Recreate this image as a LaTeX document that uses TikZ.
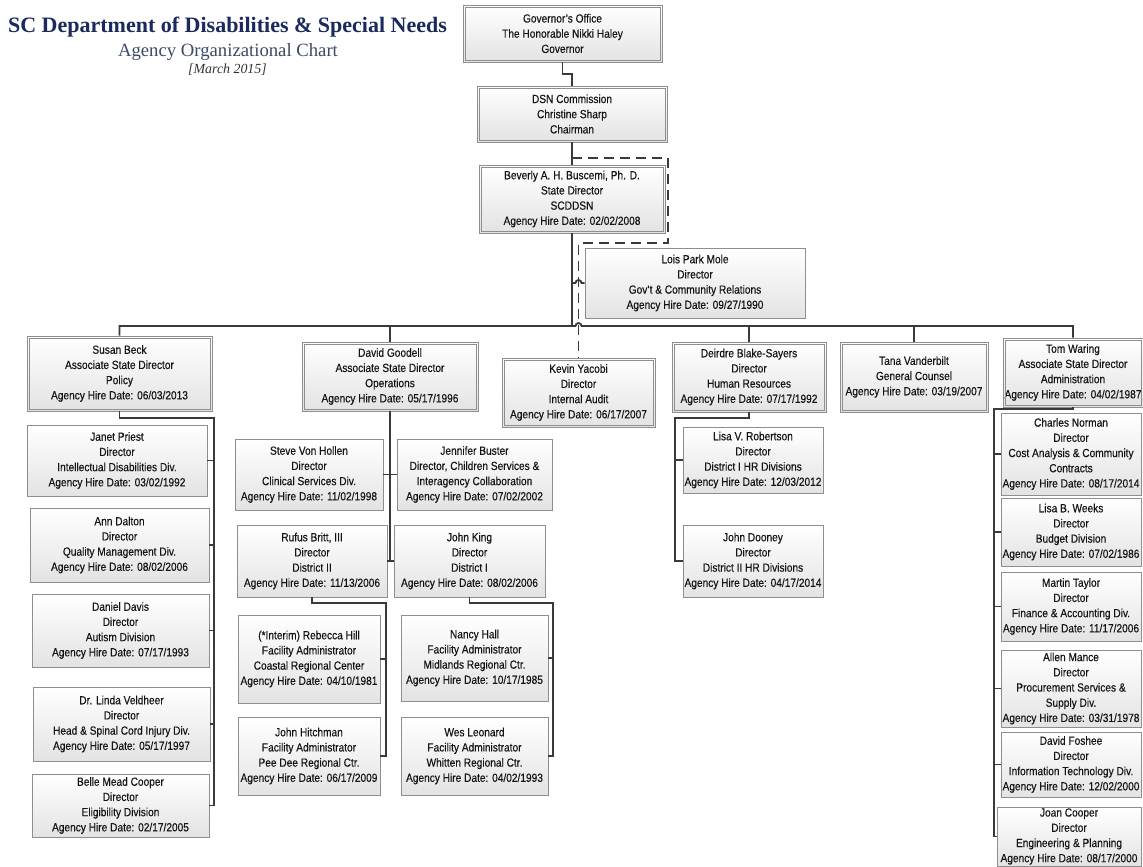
\documentclass[tikz,border=0pt]{standalone}
\usepackage{fontspec}
\setmainfont{Liberation Serif}
\newfontfamily\boxfamily[FakeStretch=0.86,FakeBold=0.3]{Liberation Sans}
\usetikzlibrary{shadows}
\newcommand\boxfont{\boxfamily\fontsize{11.8}{15.2}\selectfont}
\definecolor{titleblue}{HTML}{1B2A5C}
\definecolor{subblue}{HTML}{3D4A66}
\definecolor{linegray}{HTML}{3A3A3A}
\definecolor{bordergray}{HTML}{8E8E8E}
\newcommand\bx[7]{\node[#6, minimum width={#4-#2}, minimum height={#5-#3}] (#1) at ({(#2+#4)/2},{(#3+#5)/2}) {#7};}
\tikzset{
  box/.style={draw=bordergray, line width=0.8pt, top color=white, bottom color=black!11,
    align=center, font=\boxfont, inner sep=0pt, text=black!92,
    drop shadow={shadow xshift=1.3pt, shadow yshift=-1.3pt, fill=black, opacity=0.2}},
  dbox/.style={box},
  innerline/.style={draw=bordergray, line width=0.7pt},
  conn/.style={draw=linegray, line width=1.8pt},
  dashline/.style={draw=linegray, line width=1.8pt, dash pattern=on 10pt off 6pt},
}
\begin{document}
\begin{tikzpicture}[x=1pt,y=-1pt]
\fill[white] (0,0) rectangle (1143,867);
\useasboundingbox (0,0) rectangle (1143,867);

% titles
\node[anchor=base, font=\fontsize{22}{26}\selectfont\bfseries, text=titleblue, inner sep=0pt] (title) at (227.5,33) {SC Department of Disabilities \& Special Needs};
\node[anchor=base, font=\fontsize{18.7}{22}\selectfont, text=subblue, inner sep=0pt] (subtitle) at (228,57) {Agency Organizational Chart};
\node[anchor=base, font=\fontsize{13.9}{16}\selectfont\itshape, text=black!80, inner sep=0pt] (date) at (227.5,74) {[March 2015]};

% coordinates for junctions
\coordinate (busL) at (117,326);
\coordinate (d1) at (572,158);
\coordinate (d2) at (668,158);
\coordinate (d3) at (0,243);
\coordinate (hl) at (575.5,283);
\coordinate (hb) at (575.5,326);
\coordinate (s1) at (214,418);
\coordinate (r1) at (386,603);
\coordinate (k1) at (553,603);
\coordinate (dd1) at (675,418);
\coordinate (t1) at (994,409);

% top chain
\bx{gov}{463}{5}{662}{62}{dbox}{Governor’s Office\\The Honorable Nikki Haley\\Governor}
\bx{dsn}{477}{86}{667}{142}{dbox}{DSN Commission\\Christine Sharp\\Chairman}
\bx{bev}{479}{165}{665}{233}{dbox}{Beverly A. H. Buscemi, Ph. D.\\State Director\\SCDDSN\\Agency Hire Date: 02/02/2008}
\bx{lois}{585}{248}{805}{318}{box}{Lois Park Mole\\Director\\Gov’t \& Community Relations\\Agency Hire Date: 09/27/1990}

% level 2
\bx{susan}{27}{336}{212}{411}{dbox}{Susan Beck\\Associate State Director\\Policy\\Agency Hire Date: 06/03/2013}
\bx{david}{302}{342}{478}{411}{dbox}{David Goodell\\Associate State Director\\Operations\\Agency Hire Date: 05/17/1996}
\bx{kevin}{502}{358}{655}{427}{dbox}{Kevin Yacobi\\Director\\Internal Audit\\Agency Hire Date: 06/17/2007}
\bx{deirdre}{672}{342}{826}{412}{dbox}{Deirdre Blake-Sayers\\Director\\Human Resources\\Agency Hire Date: 07/17/1992}
\bx{tana}{840}{342}{988}{412}{dbox}{Tana Vanderbilt\\General Counsel\\Agency Hire Date: 03/19/2007}
\bx{tom}{1003}{338}{1143}{407}{dbox}{Tom Waring\\Associate State Director\\Administration\\Agency Hire Date: 04/02/1987}

% inner lines of the double borders
\foreach \n in {gov,dsn,bev,susan,david,kevin,deirdre,tana,tom}
  \draw[innerline] ([shift={(2.4pt,2.4pt)}]\n.south west) rectangle ([shift={(-2.4pt,-2.4pt)}]\n.north east);

% Susan's reports
\bx{janet}{27}{425}{207}{496}{box}{Janet Priest\\Director\\Intellectual Disabilities Div.\\Agency Hire Date: 03/02/1992}
\bx{ann}{30}{508}{209}{582}{box}{Ann Dalton\\Director\\Quality Management Div.\\Agency Hire Date: 08/02/2006}
\bx{daniel}{32}{594}{209}{667}{box}{Daniel Davis\\Director\\Autism Division\\Agency Hire Date: 07/17/1993}
\bx{linda}{33}{687}{210}{761}{box}{Dr. Linda Veldheer\\Director\\Head \& Spinal Cord Injury Div.\\Agency Hire Date: 05/17/1997}
\bx{belle}{32}{774}{209}{837}{box}{Belle Mead Cooper\\Director\\Eligibility Division\\Agency Hire Date: 02/17/2005}

% David's reports
\bx{steve}{235}{439}{383}{510}{box}{Steve Von Hollen\\Director\\Clinical Services Div.\\Agency Hire Date: 11/02/1998}
\bx{jennifer}{397}{439}{552}{510}{box}{Jennifer Buster\\Director, Children Services \&\\Interagency Collaboration\\Agency Hire Date: 07/02/2002}
\bx{rufus}{237}{525}{387}{597}{box}{Rufus Britt, III\\Director\\District II\\Agency Hire Date: 11/13/2006}
\bx{king}{394}{525}{545}{597}{box}{John King\\Director\\District I\\Agency Hire Date: 08/02/2006}
\bx{rebecca}{238}{615}{380}{703}{box}{(*Interim) Rebecca Hill\\Facility Administrator\\Coastal Regional Center\\Agency Hire Date: 04/10/1981}
\bx{hitchman}{238}{717}{380}{795}{box}{John Hitchman\\Facility Administrator\\Pee Dee Regional Ctr.\\Agency Hire Date: 06/17/2009}
\bx{nancy}{401}{615}{548}{701}{box}{Nancy Hall\\Facility Administrator\\Midlands Regional Ctr.\\Agency Hire Date: 10/17/1985}
\bx{wes}{401}{717}{548}{795}{box}{Wes Leonard\\Facility Administrator\\Whitten Regional Ctr.\\Agency Hire Date: 04/02/1993}

% Deirdre's reports
\bx{lisar}{683}{427}{823}{493}{box}{Lisa V. Robertson\\Director\\District I HR Divisions\\Agency Hire Date: 12/03/2012}
\bx{dooney}{683}{525}{823}{597}{box}{John Dooney\\Director\\District II HR Divisions\\Agency Hire Date: 04/17/2014}

% Tom's reports
\bx{charles}{1001}{413}{1141}{495}{box}{Charles Norman\\Director\\Cost Analysis \& Community\\Contracts\\Agency Hire Date: 08/17/2014}
\bx{lisaw}{1001}{498}{1141}{566}{box}{Lisa B. Weeks\\Director\\Budget Division\\Agency Hire Date: 07/02/1986}
\bx{martin}{1001}{572}{1141}{641}{box}{Martin Taylor\\Director\\Finance \& Accounting Div.\\Agency Hire Date: 11/17/2006}
\bx{allen}{1001}{650}{1141}{727}{box}{Allen Mance\\Director\\Procurement Services \&\\Supply Div.\\Agency Hire Date: 03/31/1978}
\bx{foshee}{1001}{732}{1141}{797}{box}{David Foshee\\Director\\Information Technology Div.\\Agency Hire Date: 12/02/2000}
\bx{joan}{997}{807}{1141}{866}{box}{Joan Cooper\\Director\\Engineering \& Planning\\Agency Hire Date: 08/17/2000}

% top connectors
\draw[conn] (gov.south) -- ++(0,12) -| (dsn.north);
\draw[conn] (dsn.south) -- (bev.north);
\draw[conn] (bev.south) -- (bev.south |- busL);
\draw[conn] (bev.south |- lois.west) -- (hl) arc[start angle=180, end angle=360, radius=3] -- (lois.west);

% bus
\draw[conn] (susan.north) -- (susan.north |- busL) -- (hb) arc[start angle=180, end angle=360, radius=3] -- (tom.north |- busL) -- (tom.north);
\draw[conn] (david.north) -- (david.north |- busL);
\draw[conn] (deirdre.north) -- (deirdre.north |- busL);
\draw[conn] (tana.north) -- (tana.north |- busL);

% dashed
\draw[dashline] (d1) -- (d2) -- (d2 |- d3) -- (kevin.north |- d3) -- (kevin.north);

% Susan
\draw[conn] (susan.south) |- (s1) -- (s1 |- belle.east) -- (belle.east);
\draw[conn] (s1 |- janet.east) -- (janet.east);
\draw[conn] (s1 |- ann.east) -- (ann.east);
\draw[conn] (s1 |- daniel.east) -- (daniel.east);
\draw[conn] (s1 |- linda.east) -- (linda.east);

% David
\draw[conn] (david.south) -- (david.south |- rufus.east);
\draw[conn] (steve.east) -- (jennifer.west);
\draw[conn] (rufus.east) -- (king.west);
\draw[conn] (rufus.south) |- (r1) -- (r1 |- hitchman.east) -- (hitchman.east);
\draw[conn] (r1 |- rebecca.east) -- (rebecca.east);
\draw[conn] (king.south) |- (k1) -- (k1 |- wes.east) -- (wes.east);
\draw[conn] (k1 |- nancy.east) -- (nancy.east);

% Deirdre
\draw[conn] (deirdre.south) |- (dd1) -- (dd1 |- dooney.west) -- (dooney.west);
\draw[conn] (dd1 |- lisar.west) -- (lisar.west);

% Tom
\draw[conn] (tom.south) |- (t1) -- (t1 |- joan.west) -- (joan.west);
\draw[conn] (t1 |- charles.west) -- (charles.west);
\draw[conn] (t1 |- lisaw.west) -- (lisaw.west);
\draw[conn] (t1 |- martin.west) -- (martin.west);
\draw[conn] (t1 |- allen.west) -- (allen.west);
\draw[conn] (t1 |- foshee.west) -- (foshee.west);
\end{tikzpicture}
\end{document}
